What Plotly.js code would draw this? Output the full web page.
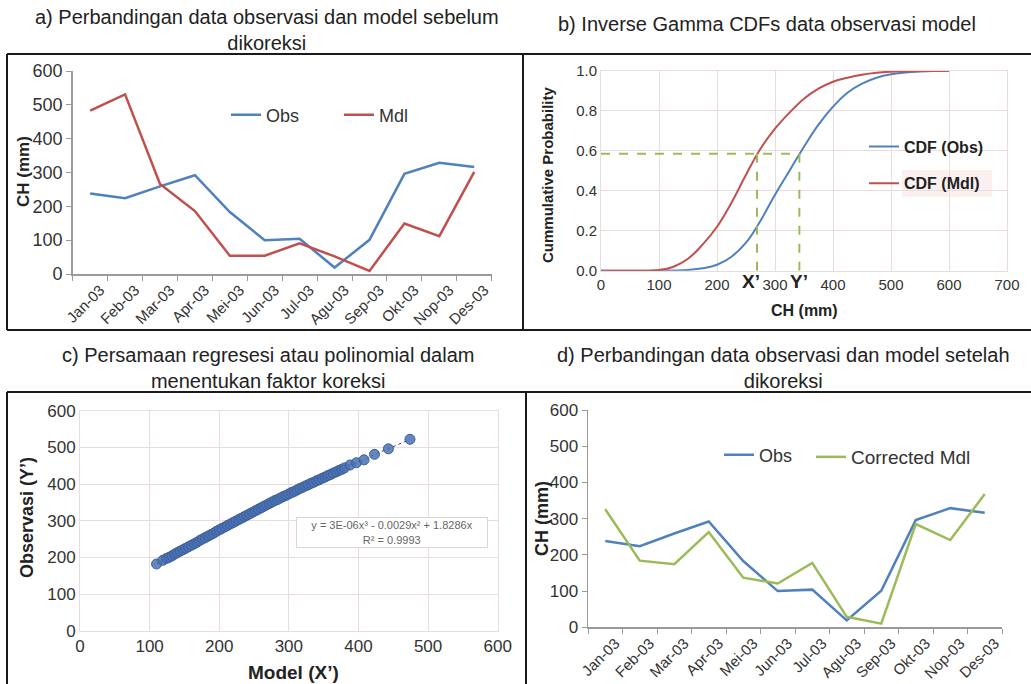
<!DOCTYPE html>
<html>
<head>
<meta charset="utf-8">
<script src="https://cdn.plot.ly/plotly-3.0.1.min.js"></script>
<style>
html,body{margin:0;padding:0;background:#fff;}
#chart{width:1031px;height:684px;}
</style>
</head>
<body>
<div id="chart"></div>
<script>
// ---------- data ----------
const months = ['Jan-03','Feb-03','Mar-03','Apr-03','Mei-03','Jun-03','Jul-03','Agu-03','Sep-03','Okt-03','Nop-03','Des-03'];
const obs = [238, 224, 259, 292, 183, 100, 104, 19, 101, 296, 329, 316];
const mdl = [483, 531, 266, 186, 54, 54, 91, 52, 9, 149, 112, 302];
const correctedMdl = [326, 184, 174, 263, 137, 121, 178, 29, 10, 285, 241, 368];

const cdfX   = [0, 50, 100, 125, 150, 175, 200, 225, 250, 275, 300, 325, 350, 375, 400, 425, 450, 475, 500, 550, 600];
const cdfObs = [0, 0, 0, 0.001, 0.004, 0.012, 0.03, 0.07, 0.14, 0.25, 0.38, 0.50, 0.62, 0.73, 0.82, 0.89, 0.935, 0.965, 0.982, 0.996, 1.0];
const cdfMdl = [0, 0, 0.003, 0.02, 0.06, 0.13, 0.22, 0.34, 0.48, 0.61, 0.71, 0.79, 0.86, 0.91, 0.945, 0.965, 0.98, 0.99, 0.995, 0.999, 1.0];
const xPrime = 269;   // X'
const yPrime = 342;   // Y'
const probLevel = 0.585;

const modelX = [110,119,124,128,132,136,140,144,148,152,156,160,164,168,172,176,180,184,188,192,196,200,204,208,212,216,220,224,228,232,236,240,244,248,252,256,260,264,268,272,276,280,284,288,292,296,300,304,308,312,316,320,324,328,332,336,340,344,348,352,356,360,364,368,372,376,380,388,397,408,423,443,474];
const obsY   = [182,192,197,200,204,209,213,217,221,225,229,233,237,241,246,250,254,258,262,266,271,275,279,283,287,291,295,299,303,307,311,315,319,323,327,331,335,339,343,347,351,355,358,362,366,369,373,377,380,384,388,391,395,398,402,405,409,412,416,419,423,426,430,433,437,440,444,452,458,466,481,496,522];

const eqText = 'y = 3E-06x³ - 0.0029x² + 1.8286x<br>R² = 0.9993';

// ---------- helpers (positions only) ----------
const W = 1031, H = 684;
const px = v => v / W;
const py = v => 1 - v / H;

const FONT = 'Liberation Sans, Arial, sans-serif';
const BLUE = '#4f81bd', RED = '#c0504d', GREEN = '#9bbb59';
const AX = '#9a9a9a', GRID = '#eadcdc', TXT = '#333333';

const traces = [
  // panel a
  {x: months, y: obs, type: 'scatter', mode: 'lines', name: 'Obs', line: {color: BLUE, width: 2.5}, xaxis: 'x', yaxis: 'y', legend: 'legend'},
  {x: months, y: mdl, type: 'scatter', mode: 'lines', name: 'Mdl', line: {color: RED, width: 2.5}, xaxis: 'x', yaxis: 'y', legend: 'legend'},
  // panel b
  {x: cdfX, y: cdfObs, type: 'scatter', mode: 'lines', name: 'CDF (Obs)', line: {color: BLUE, width: 2, shape: 'spline', smoothing: 1.2}, xaxis: 'x2', yaxis: 'y2', legend: 'legend2', legendgroup: 'o'},
  {x: cdfX, y: cdfMdl, type: 'scatter', mode: 'lines', name: 'CDF (Mdl)', line: {color: RED, width: 2, shape: 'spline', smoothing: 1.2}, xaxis: 'x2', yaxis: 'y2', legend: 'legend2', legendgroup: 'm'},
  {x: [0, yPrime, null, xPrime, xPrime, null, yPrime, yPrime], y: [probLevel, probLevel, null, 0, probLevel, null, 0, probLevel],
   type: 'scatter', mode: 'lines', line: {color: GREEN, width: 2, dash: 'dash'}, showlegend: false, xaxis: 'x2', yaxis: 'y2', hoverinfo: 'skip'},
  // panel c
  {x: modelX, y: obsY, type: 'scatter', mode: 'lines+markers', showlegend: false,
   line: {color: '#404040', width: 1, dash: 'dot'},
   marker: {size: 10, color: 'rgba(74,113,180,0.85)', line: {color: '#3d5f9a', width: 1}}, xaxis: 'x3', yaxis: 'y3'},
  // panel d
  {x: months, y: obs, type: 'scatter', mode: 'lines', name: 'Obs', line: {color: BLUE, width: 2.5}, xaxis: 'x4', yaxis: 'y4', legend: 'legend3'},
  {x: months, y: correctedMdl, type: 'scatter', mode: 'lines', name: 'Corrected Mdl', line: {color: GREEN, width: 2.5}, xaxis: 'x4', yaxis: 'y4', legend: 'legend4'}
];

const lineAxisY = {range: [0, 600], dtick: 100, showgrid: false, zeroline: false, showline: true, linecolor: AX, linewidth: 1.5,
  ticks: 'outside', ticklen: 5, tickcolor: AX, tickfont: {size: 18, color: TXT, family: FONT}};
const lineAxisX = {type: 'category', range: [-0.5, 11.5], tickson: 'boundaries', ticks: 'outside', ticklen: 5, tickcolor: AX, showline: true, linecolor: AX, linewidth: 1.5,
  showgrid: false, zeroline: false, tickangle: -45, ticklabelshift: 10, tickfont: {size: 15, color: TXT, family: FONT}};
const gridAxis = (r, d) => ({range: r, dtick: d, showgrid: true, gridcolor: GRID, gridwidth: 1, zeroline: false, showline: true, mirror: true,
  linecolor: GRID, linewidth: 1, ticks: '', tickfont: {size: 15, color: TXT, family: FONT}});

const border = (x0, y0, x1, y1) => ({type: 'line', xref: 'paper', yref: 'paper', x0: px(x0), y0: py(y0), x1: px(x1), y1: py(y1), line: {color: '#1a1a1a', width: 2}});

const ann = (text, x, y, size, opts) => Object.assign({text: text, xref: 'paper', yref: 'paper', x: px(x), y: py(y), showarrow: false,
  xanchor: 'center', yanchor: 'middle', font: {size: size, color: '#222', family: FONT}}, opts || {});

const legBase = {xanchor: 'left', yanchor: 'middle', bgcolor: 'rgba(0,0,0,0)', font: {size: 18, color: TXT, family: FONT}};

const layout = {
  width: W, height: H, margin: {l: 0, r: 0, t: 0, b: 0}, paper_bgcolor: '#fff', plot_bgcolor: '#fff',
  font: {family: FONT, color: TXT},
  xaxis: Object.assign({}, lineAxisX, {domain: [px(72.7), px(491.7)], anchor: 'y'}),
  yaxis: Object.assign({}, lineAxisY, {domain: [py(274), py(71)], anchor: 'x'}),
  xaxis2: Object.assign(gridAxis([0, 700], 100), {domain: [px(601), px(1007)], anchor: 'y2'}),
  yaxis2: Object.assign(gridAxis([0, 1], 0.2), {domain: [py(270.7), py(70.7)], anchor: 'x2', tickformat: '.1f'}),
  xaxis3: Object.assign(gridAxis([0, 600], 100), {domain: [px(80), px(497.7)], anchor: 'y3', tickfont: {size: 17, color: TXT, family: FONT}}),
  yaxis3: Object.assign(gridAxis([0, 600], 100), {domain: [py(630.7), py(410.7)], anchor: 'x3', tickfont: {size: 17, color: TXT, family: FONT}}),
  xaxis4: Object.assign({}, lineAxisX, {domain: [px(588), px(1002)], anchor: 'y4'}),
  yaxis4: Object.assign({}, lineAxisY, {domain: [py(627.3), py(410)], anchor: 'x4', tickfont: {size: 17, color: TXT, family: FONT}}),
  legend: Object.assign({}, legBase, {orientation: 'h', x: px(226), y: py(115), entrywidth: 68, entrywidthmode: 'pixels'}),
  legend2: {orientation: 'v', x: px(864), y: py(165), xanchor: 'left', yanchor: 'middle', bgcolor: 'rgba(0,0,0,0)', tracegroupgap: 13,
    font: {size: 16, color: '#222', family: FONT, weight: 'bold'}},
  legend3: Object.assign({}, legBase, {orientation: 'h', x: px(719), y: py(455)}),
  legend4: Object.assign({}, legBase, {orientation: 'h', x: px(811), y: py(457), font: {size: 19, color: TXT, family: FONT}}),
  shapes: [
    {type: 'rect', xref: 'paper', yref: 'paper', x0: px(902), x1: px(992), y0: py(197), y1: py(170), fillcolor: '#fbf0f0', line: {width: 0}, layer: 'below'},
    border(7, 54, 1031, 54),
    border(7, 54, 7, 330),
    border(523, 54, 523, 330),
    border(7, 330, 1031, 330),
    border(7, 392, 1031, 392),
    border(7, 392, 7, 684),
    border(526, 392, 526, 684)
  ],
  annotations: [
    ann('a) Perbandingan data observasi dan model sebelum<br>dikoreksi', 267, 30, 20),
    ann('b) Inverse Gamma CDFs data observasi model', 767, 24, 20),
    ann('c) Persamaan regresesi atau polinomial dalam<br>menentukan faktor koreksi', 268, 368, 20),
    ann('d) Perbandingan data observasi dan model setelah<br>dikoreksi', 783, 368, 20),
    ann('<b>CH (mm)</b>', 23, 172, 17, {textangle: -90}),
    ann('<b>Cummulative Probability</b>', 548, 175, 15, {textangle: -90}),
    ann('<b>CH (mm)</b>', 804, 310, 16),
    ann('<b>Observasi (Y’)</b>', 27, 518, 18, {textangle: -90}),
    ann('<b>Model (X’)</b>', 293, 672, 19),
    ann('<b>CH (mm)</b>', 542, 519, 18, {textangle: -90}),
    {text: '<b>X’</b>', xref: 'x2', yref: 'paper', x: xPrime, y: py(281), xshift: -6, showarrow: false, xanchor: 'center', yanchor: 'middle', font: {size: 19, color: '#222', family: FONT}},
    {text: '<b>Y’</b>', xref: 'x2', yref: 'paper', x: yPrime, y: py(281), showarrow: false, xanchor: 'center', yanchor: 'middle', font: {size: 19, color: '#222', family: FONT}},
    {text: eqText, xref: 'paper', yref: 'paper', x: px(392), y: py(532), showarrow: false, xanchor: 'center', yanchor: 'middle',
      width: 188, height: 27, bgcolor: '#ffffff', bordercolor: '#ddd3d3', borderwidth: 1, borderpad: 1,
      font: {size: 11, color: '#666', family: FONT}}
  ]
};

Plotly.newPlot('chart', traces, layout, {displayModeBar: false, staticPlot: true});
</script>
</body>
</html>
